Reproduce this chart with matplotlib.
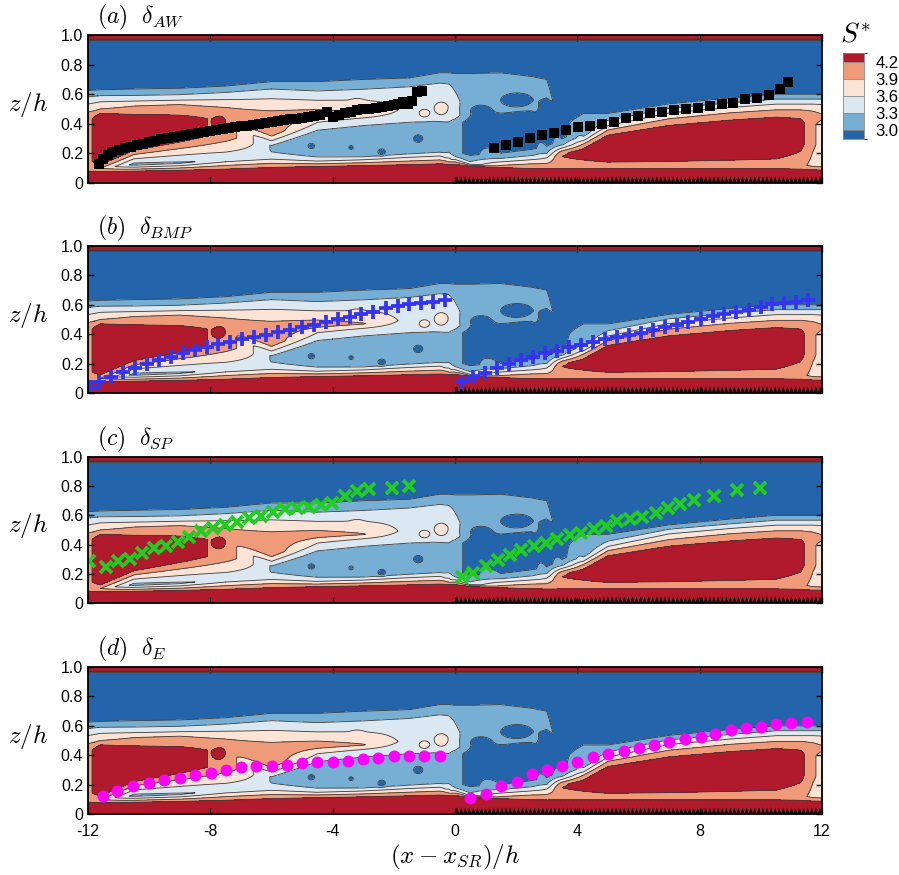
import numpy as np
import matplotlib.pyplot as plt
from matplotlib.colors import ListedColormap, BoundaryNorm
from matplotlib.cm import ScalarMappable

plt.rcParams['font.family'] = ['Liberation Sans', 'DejaVu Sans']
plt.rcParams['mathtext.fontset'] = 'cm'
plt.rcParams['axes.unicode_minus'] = False

# S* contour levels and band colours
levels = [3.0, 3.3, 3.6, 3.9, 4.2]
band_colors = ['#2464ab', '#77aed4', '#dbe8f1', '#fbe3d5', '#ef9a78', '#b1192c']

# profile stations along x (S* profile nodes, bottom -> top)
xs_st = [-12, -11.6, -10.5, -9, -7.5, -6, -4.5, -3, -1.5, -0.5, -0.2, 0, 0.5, 1.5,
         2.5, 3.0, 3.5, 4.2, 5, 7, 9, 10.5, 11.3, 11.7, 12]
z_w  = [.07, .07, .075, .08, .085, .095, .105, .11, .115, .12, .12, .12, .11, .10,
        .085, .083, .08, .08, .08, .08, .08, .08, .08, .08, .08]
z_lo = [.10, .10, .125, .135, .16, .18, .16, .17, .19, .20, .15, .17, .13, .115,
        .12, .12, .12, .12, .12, .12, .12, .12, .12, .12, .12]
s_lo = [4.0, 3.9, 3.2, 3.25, 3.4, 3.4, 3.4, 3.4, 3.4, 3.4, 3.75, 3.4, 3.4, 3.95,
        4.0, 4.0, 4.05, 4.05, 4.05, 4.05, 4.05, 4.05, 4.0, 3.8, 3.75]
z_cb = [.15, .14, .24, .30, .33, .22, .20, .19, .21, .22, .22, .20, .20, .17,
        .19, .17, .18, .18, .17, .18, .20, .22, .26, .26, .26]
s_cb = [4.1, 4.4, 4.4, 4.35, 4.1, 3.27, 3.15, 3.12, 3.1, 3.15, 3.2, 3.1, 2.9, 3.25,
        3.25, 3.6, 4.2, 4.3, 4.4, 4.4, 4.4, 4.4, 4.3, 3.95, 3.8]
z_ct = [.42, .46, .45, .44, .43, .25, .33, .35, .37, .38, .38, .40, .42, .22,
        .25, .20, .20, .22, .30, .36, .39, .41, .41, .40, .38]
s_ct = [4.1, 4.4, 4.4, 4.35, 4.1, 3.27, 3.15, 3.12, 3.1, 3.15, 3.2, 3.1, 2.9, 2.85,
        2.85, 3.3, 4.15, 4.3, 4.4, 4.4, 4.4, 4.4, 4.3, 3.95, 3.8]
z_a  = [.45, .48, .47, .47, .46, .33, .41, .43, .44, .45, .45, .45, .47, .44,
        .45, .27, .26, .26, .34, .41, .45, .47, .47, .46, .45]
s_a  = [4.0, 4.0, 4.1, 4.1, 4.05, 4.02, 3.6, 3.5, 3.45, 3.4, 3.4, 3.4, 3.1, 2.85,
        2.85, 2.85, 3.25, 3.95, 4.05, 4.05, 4.05, 4.05, 4.05, 4.0, 3.95]
z_up = [.48, .52, .52, .53, .51, .46, .465, .47, .50, .52, .52, .55, .55, .50,
        .52, .50, .32, .29, .37, .45, .49, .51, .51, .51, .51]
s_up = [3.9, 3.8, 3.9, 3.9, 3.9, 4.0, 4.05, 3.92, 3.5, 3.5, 3.5, 3.35, 3.2, 3.15,
        3.15, 2.85, 2.85, 3.55, 3.8, 3.8, 3.8, 3.8, 3.8, 3.8, 3.75]
z_lt = [.56, .57, .57, .575, .59, .61, .59, .60, .62, .64, .63, .62, .64, .64,
        .64, .62, .46, .32, .40, .49, .525, .55, .55, .55, .55]
s_lt = [3.45] * 11 + [3.3, 3.15, 3.15, 3.1, 3.1, 2.85, 3.25] + [3.45] * 7
z_ed = [.625, .63, .635, .64, .655, .685, .685, .70, .71, .745, .745, .74, .74, .745,
        .72, .70, .48, .47, .47, .535, .575, .60, .60, .60, .60]
s_ed = [3.0] * 16 + [2.85] + [3.0] * 8

# small islands in the field: x, z, half-widths, S*
isl_x = [-7.7, -1.0, -0.45, -3.2, -4.7, -2.4, -1.2, -3.4, 0.85, 2.0]
isl_z = [0.415, 0.47, 0.50, 0.55, 0.25, 0.21, 0.30, 0.24, 0.49, 0.56]
isl_rx = [0.18, 0.2, 0.25, 0.2, 0.12, 0.12, 0.15, 0.08, 0.35, 0.55]
isl_rz = [0.037, 0.03, 0.05, 0.02, 0.02, 0.02, 0.025, 0.015, 0.04, 0.05]
isl_s = [4.4, 3.75, 3.75, 3.7, 2.8, 2.8, 2.8, 2.85, 2.8, 2.8]

# boundary-layer thickness estimates
x_aw = [-11.64, -11.5, -11.35, -11.2, -11.0, -10.8, -10.6, -10.4, -10.2, -10.0, -9.8,
        -9.6, -9.4, -9.2, -9.0, -8.8, -8.6, -8.4, -8.2, -8.0, -7.8, -7.6, -7.4, -7.2,
        -7.0, -6.8, -6.6, -6.4, -6.2, -6.0, -5.8, -5.6, -5.4, -5.2, -5.0, -4.8, -4.6,
        -4.4, -4.2, -4.0, -3.8, -3.6, -3.4, -3.2, -3.0, -2.8, -2.6, -2.4, -2.2, -2.0,
        -1.85, -1.7, -1.55, -1.4, -1.25, -1.08,
        1.29, 1.68, 2.07, 2.45, 2.85, 3.24, 3.63, 4.02, 4.42, 4.81, 5.20, 5.59, 5.99,
        6.37, 6.76, 7.15, 7.55, 7.93, 8.33, 8.72, 9.10, 9.48, 9.88, 10.27, 10.63, 10.89]
z_aw = [0.128, 0.16, 0.19, 0.21, 0.225, 0.235, 0.245, 0.255, 0.265, 0.275, 0.285,
        0.295, 0.305, 0.31, 0.318, 0.325, 0.333, 0.34, 0.347, 0.352, 0.358, 0.365,
        0.37, 0.376, 0.382, 0.387, 0.393, 0.40, 0.406, 0.41, 0.418, 0.425, 0.43, 0.435,
        0.44, 0.447, 0.452, 0.457, 0.48, 0.445, 0.46, 0.472, 0.48, 0.49, 0.497, 0.503,
        0.51, 0.515, 0.522, 0.53, 0.537, 0.55, 0.535, 0.555, 0.612, 0.62,
        0.239, 0.259, 0.277, 0.304, 0.322, 0.34, 0.356, 0.376, 0.387, 0.399, 0.412,
        0.439, 0.453, 0.471, 0.48, 0.493, 0.502, 0.509, 0.52, 0.532, 0.543, 0.57,
        0.577, 0.595, 0.637, 0.68]

x_bmp = [-11.93, -11.64, -11.25, -10.86, -10.46, -10.07, -9.68, -9.29, -8.90, -8.51,
         -8.12, -7.74, -7.36, -6.95, -6.57, -6.18, -5.79, -5.40, -5.01, -4.61, -4.23,
         -3.83, -3.44, -3.06, -2.67, -2.26, -1.88, -1.49, -1.10, -0.71, -0.32,
         0.22, 0.60, 0.98, 1.38, 1.78, 2.17, 2.56, 2.94, 3.34, 3.73, 4.12, 4.52, 4.91,
         5.31, 5.69, 6.08, 6.48, 6.87, 7.25, 7.63, 8.03, 8.43, 8.81, 9.20, 9.61, 10.00,
         10.38, 10.77, 11.15, 11.55]
z_bmp = [0.043, 0.077, 0.107, 0.141, 0.168, 0.197, 0.224, 0.247, 0.27, 0.293, 0.311,
         0.331, 0.347, 0.365, 0.381, 0.397, 0.415, 0.429, 0.447, 0.465, 0.481, 0.501,
         0.519, 0.537, 0.553, 0.58, 0.594, 0.605, 0.614, 0.619, 0.63,
         0.077, 0.111, 0.138, 0.168, 0.197, 0.224, 0.247, 0.27, 0.288, 0.311, 0.329,
         0.349, 0.365, 0.383, 0.397, 0.41, 0.429, 0.451, 0.465, 0.483, 0.506, 0.522,
         0.535, 0.553, 0.567, 0.585, 0.603, 0.614, 0.621, 0.633]

x_sp = [-11.96, -11.41, -11.02, -10.63, -10.23, -9.84, -9.46, -9.07, -8.69, -8.30,
        -7.90, -7.51, -7.13, -6.74, -6.34, -5.95, -5.56, -5.18, -4.78, -4.39, -4.01,
        -3.61, -3.21, -2.82, -2.07, -1.51,
        0.22, 0.60, 1.01, 1.40, 1.79, 2.17, 2.57, 2.97, 3.35, 3.75, 4.13, 4.54, 4.93,
        5.31, 5.71, 6.11, 6.57, 6.96, 7.35, 7.82, 8.48, 9.22, 9.96]
z_sp = [0.288, 0.244, 0.288, 0.301, 0.342, 0.374, 0.39, 0.42, 0.454, 0.493, 0.511,
        0.532, 0.557, 0.58, 0.598, 0.625, 0.641, 0.648, 0.655, 0.671, 0.683, 0.735,
        0.767, 0.781, 0.79, 0.799,
        0.176, 0.208, 0.256, 0.297, 0.327, 0.363, 0.39, 0.411, 0.44, 0.464, 0.477,
        0.507, 0.527, 0.562, 0.577, 0.587, 0.618, 0.648, 0.676, 0.703, 0.731, 0.774,
        0.79]

x_e = [-11.52, -11.04, -10.52, -9.99, -9.50, -8.99, -8.49, -7.99, -7.50, -6.99, -6.50,
       -5.99, -5.50, -4.99, -4.50, -4.00, -3.51, -3.00, -2.51, -2.00, -1.49, -1.00, -0.49,
       0.49, 1.02, 1.51, 2.01, 2.51, 3.00, 3.51, 4.00, 4.50, 5.01, 5.51, 6.01, 6.51,
       7.01, 7.52, 8.03, 8.51, 9.03, 9.52, 10.01, 10.50, 11.00, 11.50]
z_e = [0.125, 0.154, 0.19, 0.209, 0.229, 0.245, 0.265, 0.281, 0.299, 0.32, 0.327,
       0.327, 0.336, 0.345, 0.354, 0.354, 0.363, 0.372, 0.383, 0.395, 0.397, 0.397,
       0.395,
       0.107, 0.136, 0.188, 0.22, 0.27, 0.299, 0.329, 0.356, 0.388, 0.408, 0.427, 0.449,
       0.469, 0.492, 0.51, 0.526, 0.546, 0.569, 0.585, 0.594, 0.61, 0.617, 0.624]

# build S*(x, z) by following each profile node along x
xg = np.linspace(-12, 12, 1201)
zg = np.linspace(0, 1, 601)
S = np.empty((zg.size, xg.size))
for j, x in enumerate(xg):
    f = lambda a: np.interp(x, xs_st, a)
    ze = f(z_ed)
    zn = [0, f(z_w), f(z_lo), f(z_cb), f(z_ct), f(z_a), f(z_up), f(z_lt), ze, ze + 0.03,
          0.962, 0.974, 1.0]
    sn = [4.5, 4.3, f(s_lo), f(s_cb), f(s_ct), f(s_a), f(s_up), f(s_lt), f(s_ed), 2.8,
          2.8, 4.5, 4.5]
    S[:, j] = np.interp(zg, zn, sn)
X, Z = np.meshgrid(xg, zg)
for x0, z0, rx, rz, s in zip(isl_x, isl_z, isl_rx, isl_rz, isl_s):
    w = np.exp(-((X - x0) / rx) ** 2 - ((Z - z0) / rz) ** 2)
    S += (s - S) * w

cmap = ListedColormap(band_colors)
bounds = [2.0] + levels + [5.0]
norm = BoundaryNorm(bounds, cmap.N)

# roughness elements on the wall downstream of x = 0
n_rough = 90
xr = np.linspace(0, 12, 2 * n_rough + 1)
zr = np.where(np.arange(xr.size) % 2 == 1, 0.045, 0.0)

fig = plt.figure(figsize=(8.99, 8.75), dpi=100)
rows = [(0.7909, 0.1691), (0.5509, 0.168), (0.3109, 0.1669), (0.0697, 0.168)]
tags = [r'$(a)\ \ \delta_{AW}$', r'$(b)\ \ \delta_{BMP}$',
        r'$(c)\ \ \delta_{SP}$', r'$(d)\ \ \delta_{E}$']
series = [(x_aw, z_aw, dict(marker='s', ms=7.2, color='black', mew=0)),
          (x_bmp, z_bmp, dict(marker='+', ms=9.5, color='#3434f0', mew=2.7)),
          (x_sp, z_sp, dict(marker='x', ms=8.5, color='#22cc22', mew=2.8)),
          (x_e, z_e, dict(marker='o', ms=8.6, color='#ff00ff', mew=0))]

for k, ((y0, h), tag, (xm, zm, st)) in enumerate(zip(rows, tags, series)):
    ax = fig.add_axes([0.0979, y0, 0.8165, h])
    ax.contourf(xg, zg, S, levels=bounds, cmap=cmap, norm=norm)
    ax.contour(xg, zg, S, levels=levels, colors='#3a3a3a', linewidths=0.6)
    ax.fill(np.r_[xr, 12, 0], np.r_[zr, 0, 0], color='black', lw=0)
    ax.plot(xm, zm, ls='none', clip_on=True, **st)
    ax.set_xlim(-12, 12)
    ax.set_ylim(0, 1)
    ax.set_yticks([0, 0.2, 0.4, 0.6, 0.8, 1.0])
    ax.set_yticklabels(['0', '0.2', '0.4', '0.6', '0.8', '1.0'])
    ax.set_xticks([-12, -8, -4, 0, 4, 8, 12])
    ax.tick_params(direction='in', top=True, right=True, labelsize=11.5, length=4,
                   width=1.0)
    ax.tick_params(axis='x', pad=7)
    if k < 3:
        ax.tick_params(labelbottom=False)
    for sp in ax.spines.values():
        sp.set_linewidth(1.3)
    ax.text(0.012, 1.12, tag, transform=ax.transAxes, fontsize=17, va='center')
    ax.text(-0.082, 0.53, r'$z/h$', transform=ax.transAxes, fontsize=18,
            ha='center', va='center')

fig.text(455 / 899, 1 - 857 / 875, r'$(x-x_{SR})/h$', fontsize=18,
         ha='center', va='center')

cax = fig.add_axes([0.9377, 0.8411, 0.0234, 0.0983])
cb_bounds = [2.85] + levels + [4.35]
cb = fig.colorbar(ScalarMappable(BoundaryNorm(cb_bounds, cmap.N), cmap), cax=cax,
                  boundaries=cb_bounds, spacing='proportional', ticks=levels,
                  drawedges=True)
cb.outline.set_linewidth(0.6)
cb.outline.set_edgecolor('#888888')
cb.dividers.set_color('#888888')
cb.dividers.set_linewidth(0.6)
cb.ax.tick_params(length=0, labelsize=12, pad=8)
cb.ax.set_yticklabels(['3.0', '3.3', '3.6', '3.9', '4.2'])
fig.text(855 / 899, 1 - 35 / 875, r'$S^{*}$', fontsize=20, ha='center', va='center')

fig.savefig('out.png', dpi=100)
